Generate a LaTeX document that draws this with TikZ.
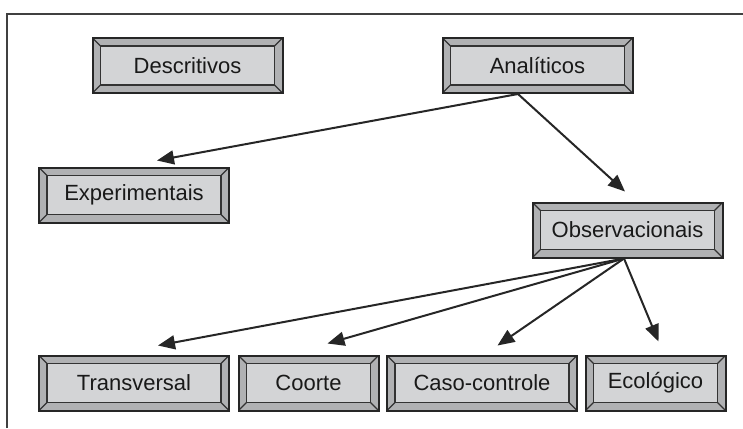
\documentclass[tikz,border=0pt]{standalone}
\usepackage{fontspec}
\setmainfont{Liberation Sans}
\usetikzlibrary{arrows.meta,positioning}
\definecolor{facegray}{HTML}{D3D4D6}
\definecolor{bevelgray}{HTML}{B0B1B3}

\begin{document}
\begin{tikzpicture}[
    x=0.5pt, y=-0.5pt,
    node distance=3.75pt,
    % Bevelled study-type boxes
    bevel/.style={rectangle, draw=black!85, line width=1pt, fill=bevelgray,
        minimum width=95pt, minimum height=27.5pt, inner sep=0pt, text centered,
        font=\fontsize{11}{13}\selectfont, text=black!90,
        path picture={
            \draw[fill=facegray, draw=black!80, line width=0.6pt]
                ([shift={(4pt,-4pt)}]path picture bounding box.north west)
                rectangle ([shift={(-4pt,4pt)}]path picture bounding box.south east);
            \draw[black!80, line width=0.6pt]
                (path picture bounding box.north west) -- ++(4pt,-4pt)
                (path picture bounding box.north east) -- ++(-4pt,-4pt)
                (path picture bounding box.south west) -- ++(4pt,4pt)
                (path picture bounding box.south east) -- ++(-4pt,4pt);
        }},
    narrow/.style={bevel, minimum width=70pt},
    % Arrow style
    arrow/.style={-{Triangle[length=8.5pt,width=7pt]}, line width=1pt, black!85},
    frame/.style={line width=1pt, black!75}
]
    \useasboundingbox (0,0) rectangle (743,428);

    % Open frame (top and left)
    \draw[frame] (7,428) -- (7,14) -- (743,14);

    % Top row
    \node[bevel] (desc) at (187.5,65.5) {Descritivos};
    \node[bevel] (ana) at (537.5,65.5) {Analíticos};

    % Second level
    \node[bevel] (exp) at (134,195) {Experimentais};
    \node[bevel] (obs) at (627.5,230) {Observacionais};

    % Observational designs (bottom row)
    \node[bevel] (trans) at (134,383) {Transversal};
    \node[narrow, right=of trans] (coorte) {Coorte};
    \node[bevel, right=3.25pt of coorte] (caso) {Caso-controle};
    \node[narrow, right=3.25pt of caso] (eco) {Ecológico};

    % Analiticos branches
    \draw[arrow] ([xshift=-9.75pt]ana.south) -- ([shift={(11.5pt,3pt)}]exp.north);
    \draw[arrow] ([xshift=-9.75pt]ana.south) -- ([shift={(-1.25pt,5pt)}]obs.north);

    % Observacionais branches
    \draw[arrow] ([xshift=-1.75pt]obs.south) -- ([shift={(12pt,4.5pt)}]trans.north);
    \draw[arrow] ([xshift=-1.75pt]obs.south) -- ([shift={(9.5pt,5.5pt)}]coorte.north);
    \draw[arrow] ([xshift=-1.75pt]obs.south) -- ([shift={(7.75pt,4.5pt)}]caso.north);
    \draw[arrow] ([xshift=-1.75pt]obs.south) -- ([shift={(1.5pt,6.5pt)}]eco.north);
\end{tikzpicture}
\end{document}
